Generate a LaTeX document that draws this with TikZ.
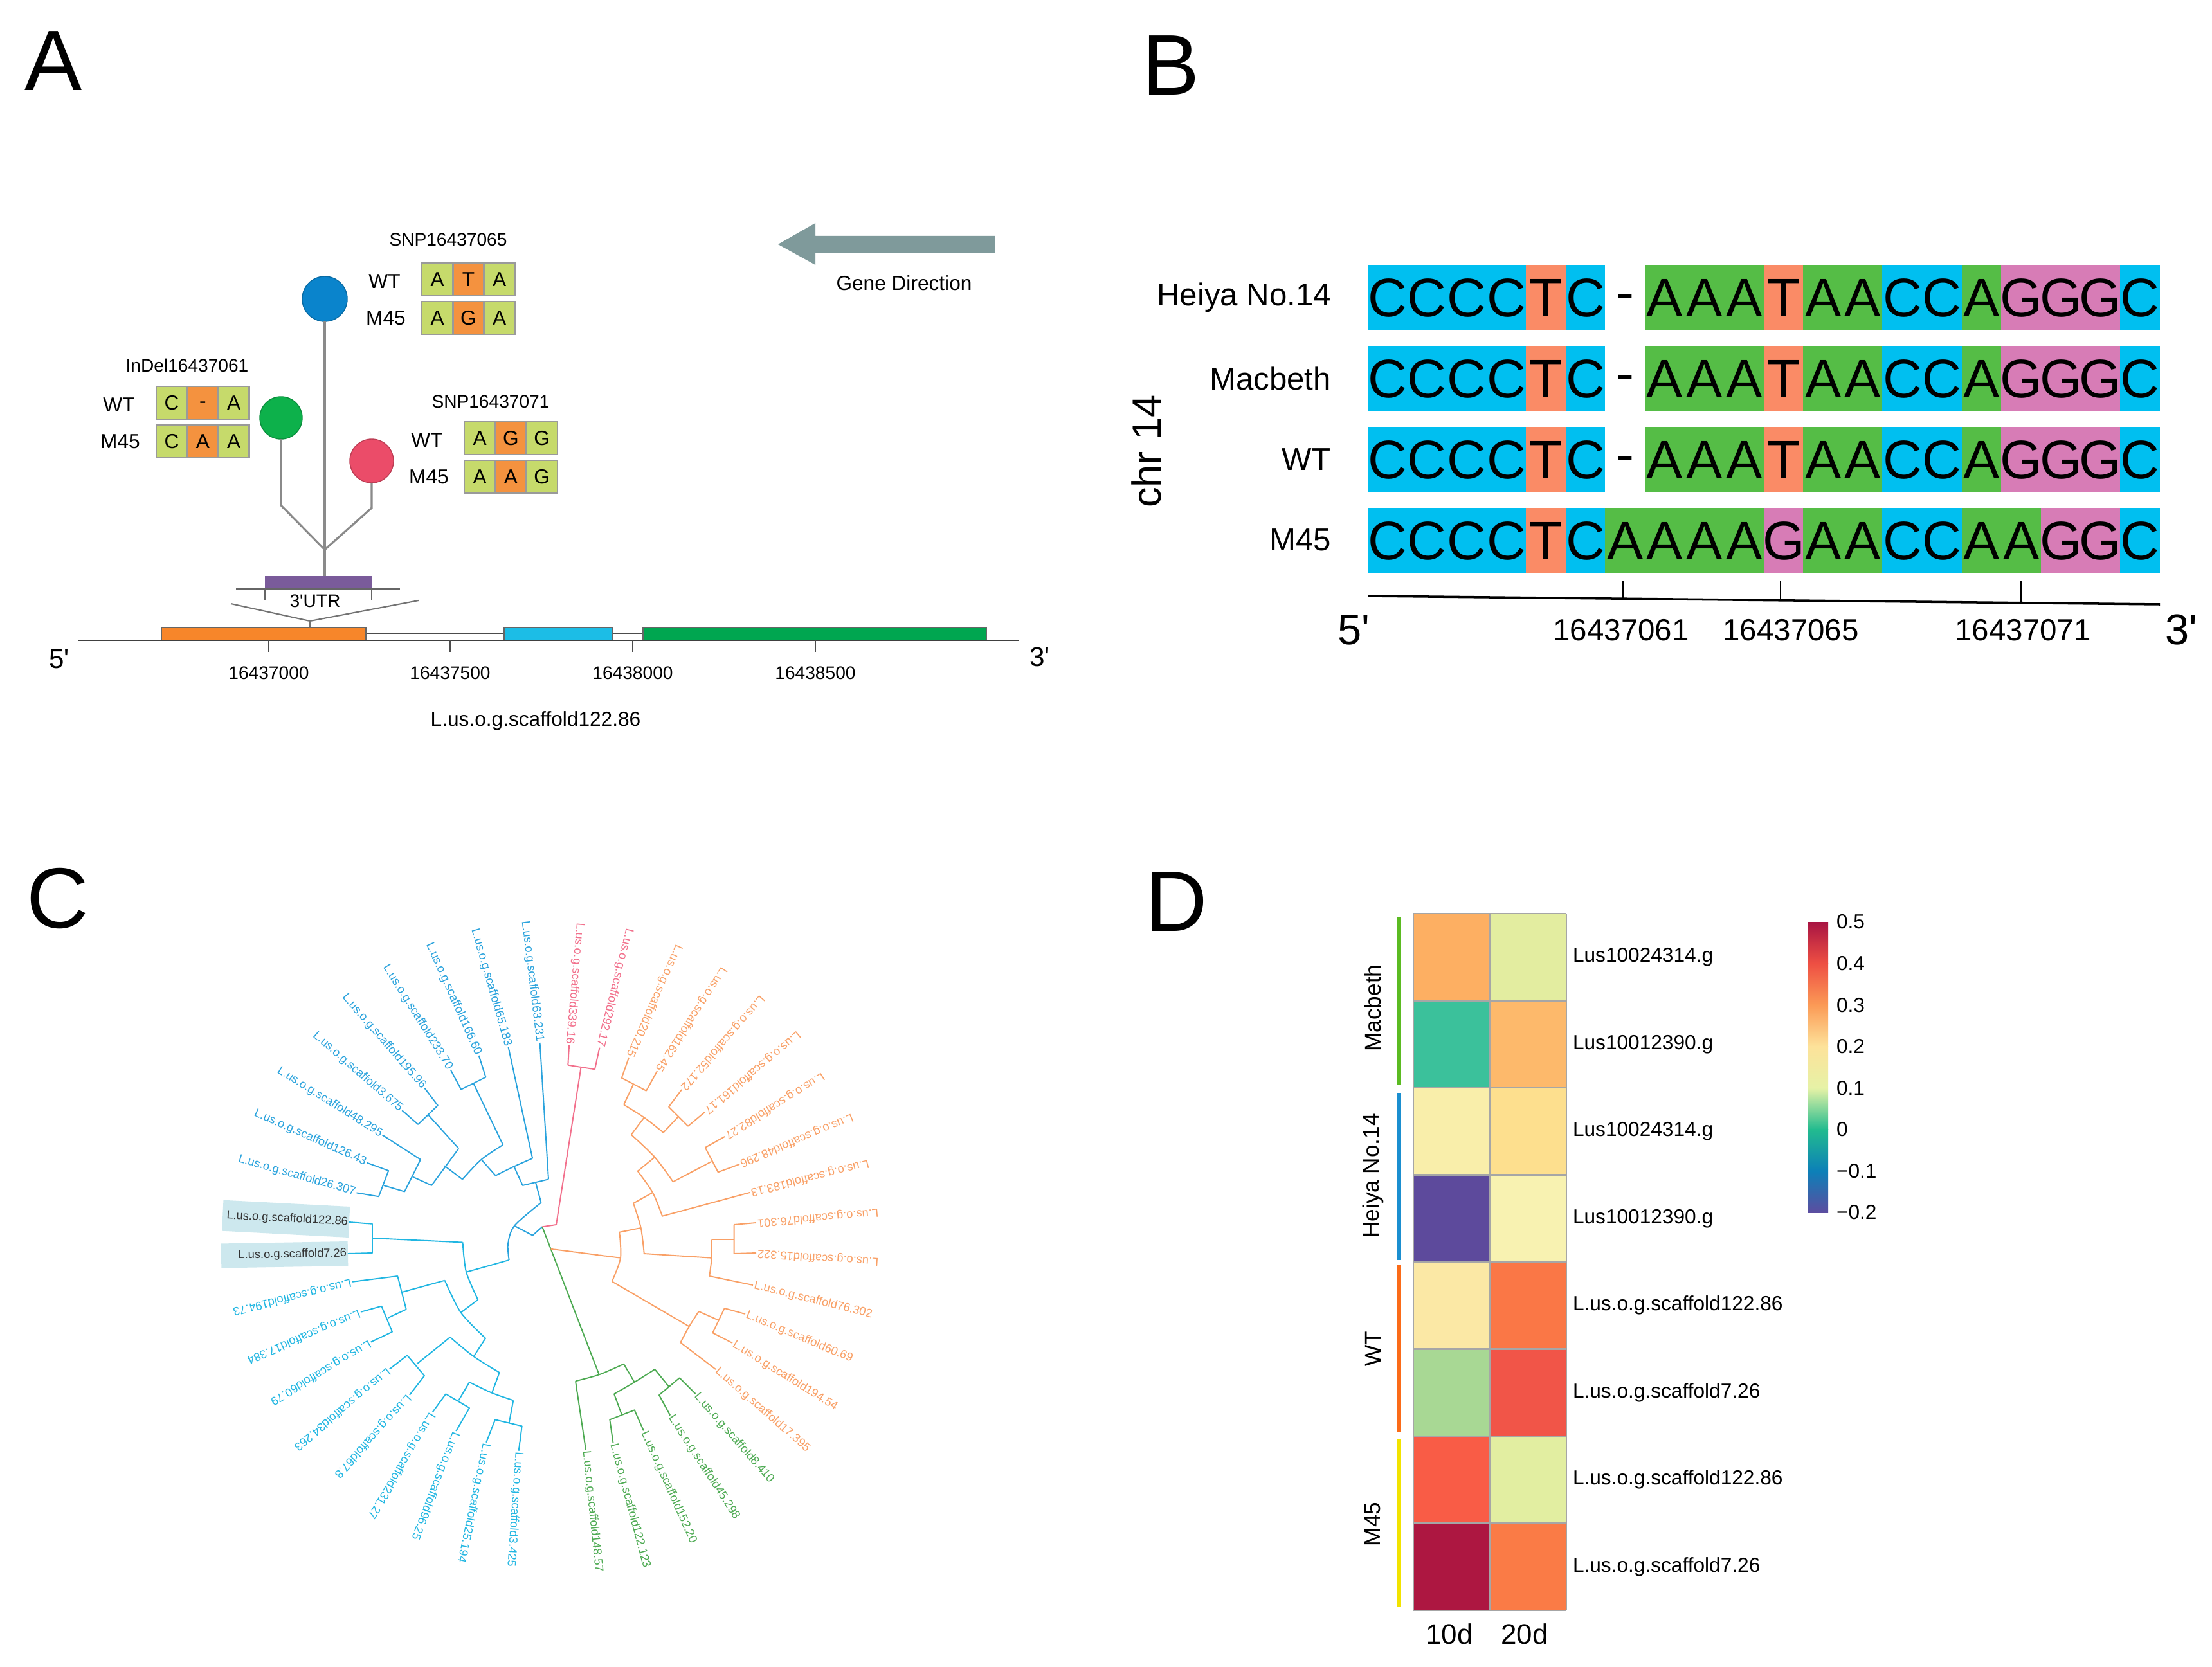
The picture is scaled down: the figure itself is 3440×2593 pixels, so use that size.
\documentclass[tikz,border=0pt]{standalone}
\usepackage{fontspec}
\setmainfont{Liberation Sans}
\newfontfamily\plainsf{Liberation Sans}
\usetikzlibrary{calc}

\definecolor{arrowgray}{HTML}{7F9A9B}
\definecolor{cyg}{HTML}{C6DA6B}
\definecolor{corg}{HTML}{F4923F}
\definecolor{cellbd}{HTML}{9A9A9A}
\definecolor{snpblue}{HTML}{0A84CC}
\definecolor{snpgreen}{HTML}{0DB14B}
\definecolor{snpred}{HTML}{EB4C69}
\definecolor{stemgray}{HTML}{8A8A8A}
\definecolor{utrpurple}{HTML}{7A5B9A}
\definecolor{exorange}{HTML}{F7862A}
\definecolor{excyan}{HTML}{1CBDE6}
\definecolor{exgreen}{HTML}{00A650}
\definecolor{bcy}{HTML}{00BFF0}
\definecolor{bor}{HTML}{FA8B66}
\definecolor{bgr}{HTML}{55BD46}
\definecolor{bpk}{HTML}{D77CB6}
\definecolor{bwh}{HTML}{FFFFFF}
\definecolor{treeblue}{HTML}{2AA3DD}
\definecolor{treecyan}{HTML}{20B6E2}
\definecolor{treepink}{HTML}{F2708C}
\definecolor{treegreen}{HTML}{4DAA52}
\definecolor{treeorange}{HTML}{F9A066}
\definecolor{hlbox}{HTML}{CDE8EE}
\definecolor{hmAa}{HTML}{FDAF62}\definecolor{hmBa}{HTML}{E3EDA0}
\definecolor{hmAb}{HTML}{3BC19B}\definecolor{hmBb}{HTML}{FDB96B}
\definecolor{hmAc}{HTML}{F9EEAA}\definecolor{hmBc}{HTML}{FDDF8E}
\definecolor{hmAd}{HTML}{5D4A9C}\definecolor{hmBd}{HTML}{F8F2B1}
\definecolor{hmAe}{HTML}{FBE8A5}\definecolor{hmBe}{HTML}{FA7746}
\definecolor{hmAf}{HTML}{A8D894}\definecolor{hmBf}{HTML}{F15548}
\definecolor{hmAg}{HTML}{F95C46}\definecolor{hmBg}{HTML}{E2EEA1}
\definecolor{hmAh}{HTML}{AD1741}\definecolor{hmBh}{HTML}{FA7B46}
\definecolor{cbA}{HTML}{A81443}
\definecolor{cbB}{HTML}{EE4F43}
\definecolor{cbC}{HTML}{FB9A56}
\definecolor{cbD}{HTML}{FDE29A}
\definecolor{cbE}{HTML}{E6F2A6}
\definecolor{cbF}{HTML}{22BB8F}
\definecolor{cbG}{HTML}{0C80B8}
\definecolor{cbH}{HTML}{5C4DA0}
\definecolor{gbgreen}{HTML}{5BBB22}
\definecolor{gbblue}{HTML}{1B8FD0}
\definecolor{gborange}{HTML}{FB6B18}
\definecolor{gbyellow}{HTML}{F2E300}

\tikzset{
  f/.style={font=\fontsize{#1}{#1}\selectfont},
  cell/.style={draw=cellbd, line width=0.8pt, minimum width=4.83mm, minimum height=5.1mm, inner sep=0pt, f=9},
  stem/.style={draw=stemgray, line width=0.9pt},
  brBlue/.style={draw=treeblue, line width=0.55pt, line join=round},
  brCyan/.style={draw=treecyan, line width=0.55pt, line join=round},
  brPink/.style={draw=treepink, line width=0.55pt, line join=round},
  brGreen/.style={draw=treegreen, line width=0.55pt, line join=round},
  brOrange/.style={draw=treeorange, line width=0.55pt, line join=round},
  lab/.style={f=5.2, inner sep=0.6pt},
}

\newcommand\trip[6]{%
  \node[cell, fill=cyg]  (#1a) at (#2+24.15,#3+25.5) {#4};
  \node[cell, fill=corg] (#1b) at (#2+72.45,#3+25.5) {#5};
  \node[cell, fill=cyg]  (#1c) at (#2+120.75,#3+25.5) {#6};}
\newcommand\lfE[4]{\node[lab,anchor=east,rotate=#2,text=#3] (lab#1) at (t#1) {L.us.o.g.scaffold#4};}
\newcommand\lfW[4]{\node[lab,anchor=west,rotate=#2,text=#3] (lab#1) at (t#1) {L.us.o.g.scaffold#4};}
\newcommand\cdash{\vphantom{C}\raisebox{0.1em}{-}}

\begin{document}
\begin{tikzpicture}[x=0.1mm, y=-0.1mm, inner sep=0pt, outer sep=0pt]
\fill[white] (0,0) rectangle (3440,2593);
\useasboundingbox (0,0) rectangle (3440,2593);

% ---------- panel letters
\node[f=38] (lA) at (83,95) {A};
\node[f=38] (lB) at (1821,102) {B};
\node[f=38] (lC) at (90,1398) {C};
\node[f=38] (lD) at (1830,1403) {D};

% ---------- Panel A
\fill[arrowgray] (1210,380) -- (1268,347) -- (1268,367) -- (1547,367) -- (1547,393) -- (1268,393) -- (1268,412) -- cycle;
\node[f=9] (gd) at (1406,440) {Gene Direction};

\node[f=8] (snp65) at (697,373) {SNP16437065};
\node[f=8] (indel) at (291,568) {InDel16437061};
\node[f=8] (snp71) at (763,625) {SNP16437071};

\node[f=9] (w65) at (598,438) {WT};
\node[f=9] (m65) at (600,495) {M45};
\node[f=9] (win) at (185,630) {WT};
\node[f=9] (min) at (187,687) {M45};
\node[f=9] (w71) at (664,685) {WT};
\node[f=9] (m71) at (667,742) {M45};

\trip{sw}{656}{409}{A}{T}{A}
\trip{sm}{656}{469}{A}{G}{A}
\trip{iw}{243}{601}{C}{\cdash}{A}
\trip{im}{243}{661}{C}{A}{A}
\trip{tw}{722}{656}{A}{G}{G}
\trip{tm}{722}{716}{A}{A}{G}

\node[fill=utrpurple, minimum width=16.6mm, minimum height=2.1mm] (utr) at (495,906.5) {};
\node[circle, fill=snpblue, draw=snpblue!80!black, line width=0.4pt, minimum size=7mm] (cb) at (505,465) {};
\node[circle, fill=snpgreen, draw=snpgreen!80!black, line width=0.4pt, minimum size=6.6mm] (cg) at (437,650) {};
\node[circle, fill=snpred, draw=snpred!80!black, line width=0.4pt, minimum size=6.8mm] (cr) at (578,717) {};
\coordinate (jn) at (505,855);
\draw[stem] (cb.south) -- (jn);
\draw[stem, line width=1.4pt] (jn) -- (cb.south |- utr.north);
\draw[stem] (cg.south) -- (437,786) -- (jn);
\draw[stem] (cr.south) -- (578,790) -- (jn);

\draw[draw=black!60, line width=0.6pt] (367,916) -- (622,916);
\draw[draw=black!60, line width=0.6pt] (412,917) -- (412,933) (578,917) -- (578,933);
\node[f=8] (utrlab) at (490,935) {\plainsf 3'UTR};
\draw[draw=black!55, line width=0.6pt] (359,939) -- (482,966) -- (651,934);
\draw[draw=black!55, line width=0.6pt] (482,966) -- (482,984);

\draw[draw=black!70, line width=0.6pt, fill=white] (569,985) rectangle (784,996);
\draw[draw=black!70, line width=0.6pt, fill=white] (952,985) rectangle (1000,996);
\draw[draw=black!60, line width=0.5pt, fill=exorange] (251,976) rectangle (569,996);
\draw[draw=black!60, line width=0.5pt, fill=excyan] (784,976) rectangle (952,996);
\draw[draw=black!60, line width=0.5pt, fill=exgreen] (1000,976) rectangle (1534,996);
\draw[draw=black!75, line width=0.7pt] (122,996) -- (1585,996);
\foreach \tx/\tl in {418/16437000, 700/16437500, 984/16438000, 1268/16438500}{
  \draw[draw=black!70, line width=0.6pt] (\tx,996) -- (\tx,1014);
  \node[f=8] (tk\tl) at (\tx,1047) {\tl};
}
\node[f=12] (a5) at (92,1025) {\plainsf 5'};
\node[f=12] (a3) at (1617,1022) {\plainsf 3'};
\node[f=9] (scaf) at (833,1121) {L.us.o.g.scaffold122.86};

% ---------- Panel B
\foreach \yt [count=\r] in {412,538,664} {
  \foreach \L/\cc [count=\i from 0] in {C/bcy,C/bcy,C/bcy,C/bcy,T/bor,C/bcy,\cdash/bwh,A/bgr,A/bgr,A/bgr,T/bor,A/bgr,A/bgr,C/bcy,C/bcy,A/bgr,G/bpk,G/bpk,G/bpk,C/bcy} {
    \fill[\cc] (2127+\i*61.6-0.4,\yt) rectangle (2127+\i*61.6+62,\yt+102);
    \node[f=24] (s\r-\i) at (2127+\i*61.6+30.8,\yt+51) {\L};
  }
}
\foreach \L/\cc [count=\i from 0] in {C/bcy,C/bcy,C/bcy,C/bcy,T/bor,C/bcy,A/bgr,A/bgr,A/bgr,A/bgr,G/bpk,A/bgr,A/bgr,C/bcy,C/bcy,A/bgr,A/bgr,G/bpk,G/bpk,C/bcy} {
  \fill[\cc] (2127+\i*61.6-0.4,790) rectangle (2127+\i*61.6+62,892);
  \node[f=24] (s4-\i) at (2127+\i*61.6+30.8,841) {\L};
}
\fill[white] (2127+20*61.6,400) rectangle (2127+20*61.6+3,900);
\node[f=14, anchor=east] (rl1) at (2070,463) {Heiya No.14};
\node[f=14, anchor=east] (rl2) at (2070,589) {Macbeth};
\node[f=14, anchor=east] (rl3) at (2070,715) {WT};
\node[f=14, anchor=east] (rl4) at (2070,840) {M45};
\node[f=18, rotate=90] (chr) at (1783,702) {chr 14};

\coordinate (axL) at (2127,927);
\coordinate (axR) at (3359,940);
\draw[line width=1pt] (axL) -- (axR);
\draw[line width=0.5pt] (2524,904) -- (2524,931.2) (2769,904) -- (2769,933.8) (3143,904) -- (3143,937.7);
\node[f=13.5] (p61) at (2521,980) {16437061};
\node[f=13.5] (p65) at (2785,980) {16437065};
\node[f=13.5] (p71) at (3146,980) {16437071};
\node[f=19] (b5) at (2105,980) {\plainsf 5'};
\node[f=19] (b3) at (3392,980) {\plainsf 3'};

% ---------- Panel C (tree)
\coordinate (t1) at (839.6,1622);   \coordinate (t2) at (790.6,1628.9);
\coordinate (t3) at (744.7,1641.9); \coordinate (t4) at (700.7,1664);
\coordinate (t5) at (660.5,1692.8); \coordinate (t6) at (625.3,1727.2);
\coordinate (t7) at (594.7,1765.5); \coordinate (t8) at (570.6,1808.7);
\coordinate (t9) at (554.5,1855.4); \coordinate (t10) at (543,1901);
\coordinate (t11) at (541,1950);    \coordinate (t12) at (547.7,1993.8);
\coordinate (t13) at (561,2040.8);  \coordinate (t14) at (576.8,2087.5);
\coordinate (t15) at (605.8,2129.6);\coordinate (t16) at (637,2169.8);
\coordinate (t17) at (672.7,2196.6);\coordinate (t18) at (709.3,2226);
\coordinate (t19) at (756.2,2243.7);\coordinate (t20) at (806.7,2256.7);
\coordinate (t21) at (911,2255);    \coordinate (t22) at (953.5,2244.4);
\coordinate (t23) at (1000.8,2225.3);\coordinate (t24) at (1042.2,2201.6);
\coordinate (t25) at (1081.5,2167.9);\coordinate (t26) at (1113,2130);
\coordinate (t27) at (1139,2089);   \coordinate (t28) at (1159,2044);
\coordinate (t29) at (1171,1999);   \coordinate (t30) at (1176,1949);
\coordinate (t31) at (1176,1902);   \coordinate (t32) at (1166,1855);
\coordinate (t33) at (1150,1811);   \coordinate (t34) at (1127,1768);
\coordinate (t35) at (1096,1730);   \coordinate (t36) at (1060,1695);
\coordinate (t37) at (1022,1666);   \coordinate (t38) at (978,1645);
\coordinate (t39) at (932.4,1629.6);\coordinate (t40) at (885.1,1625.8);

% highlight boxes
\fill[hlbox, rotate around={-3:(t10)}] ($(t10)+(-197,-24)$) rectangle ($(t10)+(0,24)$);
\fill[hlbox, rotate around={1:(t11)}] ($(t11)+(-197,-19)$) rectangle ($(t11)+(0,19)$);

% blue upper clade
\draw[brBlue] (t1) -- (853,1834.4);
\draw[brBlue] (t2) -- (828.1,1801.8);
\draw[brBlue] (t3) -- (755.4,1675.5) -- (717.1,1694.7) -- (t4);
\draw[brBlue] (736.3,1685.1) -- (782.2,1780.8);
\draw[brBlue] (t5) -- (680.8,1719.5) -- (650.2,1749) -- (t6);
\draw[brBlue] (666.6,1734.9) -- (713.3,1786.5);
\draw[brBlue] (t7) -- (654,1803.7);
\draw[brBlue] (t8) -- (604.2,1821) -- (588.9,1861.2) -- (t9);
\draw[brBlue] (596.6,1843.9) -- (629.1,1853.5) -- (654,1803.7);
\draw[brBlue] (641.7,1830.5) -- (671.2,1843.9) -- (713.3,1786.5);
\draw[brBlue] (691.1,1813.3) -- (719.1,1834.4);
\draw[brBlue] plot[smooth] coordinates {(719.1,1834.4) (748.5,1803.7) (782.2,1780.8)};
\draw[brBlue] (748.5,1803.7) -- (770.7,1828.6);
\draw[brBlue] plot[smooth] coordinates {(770.7,1828.6) (799.4,1814.5) (828.1,1801.8)};
\draw[brBlue] (799.4,1814.5) -- (812.8,1843.9) -- (853,1834.4);
\draw[brBlue] (832.7,1838.2) -- (841.5,1870.7);
\draw[brBlue] plot[smooth] coordinates {(841.5,1870.7) (800,1906.7) (790,1935) (791.7,1960)};
\draw[brBlue] (800,1906.7) -- (828.3,1921.7) -- (843.3,1908.3);

% blue lower clade
\draw[brCyan] (t10) -- (579,1903.8) -- (579,1949) -- (t11);
\draw[brCyan] (579,1926) -- (719.6,1932.5);
\draw[brCyan] plot[smooth] coordinates {(719.6,1932.5) (725,1978.3) (743.3,2021.7)};
\draw[brCyan] (726.7,1978.3) -- (791.7,1960);
\draw[brCyan] (743.3,2021.7) -- (716.7,2041.7);
\draw[brCyan] plot[smooth] coordinates {(691.7,1991.7) (716.7,2041.7) (755,2081.7)};
\draw[brCyan] (691.7,1991.7) -- (625,2010);
\draw[brCyan] (t12) -- (618.3,1985) -- (631.7,2036.7);
\draw[brCyan] (631.7,2036.7) -- (603.3,2050);
\draw[brCyan] (t13) -- (593.3,2031.7) -- (610,2071.7) -- (t14);
\draw[brCyan] (755,2081.7) -- (736.7,2110);
\draw[brCyan] plot[smooth] coordinates {(700,2080) (736.7,2110) (776.7,2135)};
\draw[brCyan] (700,2080) -- (648.3,2121.7);
\draw[brCyan] (t15) -- (633.3,2108.3) -- (660,2140) -- (t16);
\draw[brCyan] (776.7,2135) -- (765,2166.7);
\draw[brCyan] plot[smooth] coordinates {(730,2150) (765,2166.7) (798.3,2178.3)};
\draw[brCyan] (730,2150) -- (713.3,2178.3);
\draw[brCyan] (t17) -- (693.3,2168.3) -- (730,2190) -- (t18);
\draw[brCyan] (798.3,2178.3) -- (791.7,2213.3);
\draw[brCyan] (t19) -- (770,2208.3) -- (811.7,2218.3) -- (t20);

% pink
\draw[brPink] (843.3,1908.3) -- (865,1905) -- (903.3,1661.7);
\draw[brPink] (t40) -- (883.3,1656.7) -- (925,1663.3) -- (t39);

% green
\draw[brGreen] (843.3,1908.3) -- (931.7,2138.3);
\draw[brGreen] plot[smooth] coordinates {(895,2148.3) (931.7,2138.3) (970,2121.7)};
\draw[brGreen] (t21) -- (895,2148.3);
\draw[brGreen] (970,2121.7) -- (986.7,2150);
\draw[brGreen] plot[smooth] coordinates {(955,2168.3) (986.7,2150) (1018.3,2130)};
\draw[brGreen] (955,2168.3) -- (966.7,2200);
\draw[brGreen] (t22) -- (948.3,2208.3) -- (986.7,2193.3) -- (t23);
\draw[brGreen] (1018.3,2130) -- (1040,2156.7);
\draw[brGreen] (t24) -- (1025,2170) -- (1056.7,2143.3) -- (t25);

% orange
\draw[brOrange] (856.6,1942.8) -- (965,1956.7);
\draw[brOrange] plot[smooth] coordinates {(963.3,1916.7) (965,1956.7) (951.7,1993.3)};
\draw[brOrange] (963.3,1916.7) -- (996.7,1910);
\draw[brOrange] plot[smooth] coordinates {(985,1871.7) (996.7,1910) (1001.7,1950)};
\draw[brOrange] (1001.7,1950) -- (1106.7,1956.7);
\draw[brOrange] plot[smooth] coordinates {(1106.7,1928.3) (1106.7,1956.7) (1103.3,1985)};
\draw[brOrange] (1106.7,1928.3) -- (1141.7,1928.3);
\draw[brOrange] (t31) -- (1141.7,1905) -- (1141.7,1950) -- (t30);
\draw[brOrange] (t29) -- (1103.3,1985);
\draw[brOrange] (985,1871.7) -- (1015,1855);
\draw[brOrange] plot[smooth] coordinates {(991.7,1821.7) (1015,1855) (1030,1891.7)};
\draw[brOrange] (t32) -- (1030,1891.7);
\draw[brOrange] (991.7,1821.7) -- (1018.3,1800);
\draw[brOrange] plot[smooth] coordinates {(981.7,1765) (1018.3,1800) (1046.7,1838.3)};
\draw[brOrange] (1046.7,1838.3) -- (1106.7,1806.7);
\draw[brOrange] (t34) -- (1096.7,1785) -- (1116.7,1823.3) -- (t33);
\draw[brOrange] (981.7,1765) -- (1001.7,1738.3);
\draw[brOrange] plot[smooth] coordinates {(970,1718.3) (1001.7,1738.3) (1031.7,1761.7)};
\draw[brOrange] (970,1718.3) -- (985,1686.7);
\draw[brOrange] (t38) -- (966.7,1676.7) -- (1005,1696.7) -- (t37);
\draw[brOrange] (1031.7,1761.7) -- (1055,1736.7);
\draw[brOrange] (t36) -- (1040,1721.7) -- (1070,1751.7) -- (t35);
\draw[brOrange] (951.7,1993.3) -- (1071.7,2063.3);
\draw[brOrange] plot[smooth] coordinates {(1086.7,2040) (1071.7,2063.3) (1058.3,2088.3)};
\draw[brOrange] (t26) -- (1058.3,2088.3);
\draw[brOrange] (1086.7,2040) -- (1116.7,2053.3);
\draw[brOrange] (t28) -- (1126.7,2035) -- (1108.3,2073.3) -- (t27);

% leaf labels
\lfE{1}{-83}{treeblue}{63.231}
\lfE{2}{-74}{treeblue}{65.183}
\lfE{3}{-66}{treeblue}{166.60}
\lfE{4}{-58}{treeblue}{233.70}
\lfE{5}{-49}{treeblue}{195.96}
\lfE{6}{-41}{treeblue}{3.675}
\lfE{7}{-32}{treeblue}{48.295}
\lfE{8}{-24}{treeblue}{126.43}
\lfE{9}{-16}{treeblue}{26.307}
\lfE{10}{-3}{black!80}{122.86}
\lfE{11}{1}{black!80}{7.26}
\lfW{12}{194}{treecyan}{194.73}
\lfW{13}{203}{treecyan}{17.384}
\lfW{14}{211}{treecyan}{60.79}
\lfW{15}{220}{treecyan}{34.263}
\lfW{16}{228}{treecyan}{67.8}
\lfW{17}{239.5}{treecyan}{231.27}
\lfW{18}{249}{treecyan}{96.25}
\lfW{19}{258}{treecyan}{25.194}
\lfW{20}{266}{treecyan}{3.425}
\lfW{21}{-84}{treegreen}{148.57}
\lfW{22}{-75}{treegreen}{122.123}
\lfW{23}{-66}{treegreen}{152.20}
\lfW{24}{-57}{treegreen}{45.298}
\lfW{25}{-49}{treegreen}{8.410}
\lfW{26}{-41}{treeorange}{17.395}
\lfW{27}{-32}{treeorange}{194.54}
\lfW{28}{-23}{treeorange}{60.69}
\lfW{29}{-14}{treeorange}{76.302}
\lfE{30}{176}{treeorange}{15.322}
\lfE{31}{185}{treeorange}{76.301}
\lfE{32}{194}{treeorange}{183.13}
\lfE{33}{203}{treeorange}{48.296}
\lfE{34}{212}{treeorange}{82.27}
\lfE{35}{220}{treeorange}{161.17}
\lfE{36}{229}{treeorange}{52.172}
\lfE{37}{237}{treeorange}{162.45}
\lfE{38}{246}{treeorange}{20.215}
\lfE{39}{256}{treepink}{292.17}
\lfE{40}{265}{treepink}{339.16}

% ---------- Panel D (heatmap)
\foreach \ca/\cbb [count=\r from 0] in {hmAa/hmBa,hmAb/hmBb,hmAc/hmBc,hmAd/hmBd,hmAe/hmBe,hmAf/hmBf,hmAg/hmBg,hmAh/hmBh} {
  \fill[\ca] (2198,1421+\r*135.5) rectangle (2317,1421+\r*135.5+135.5);
  \fill[\cbb] (2317,1421+\r*135.5) rectangle (2436,1421+\r*135.5+135.5);
}
\foreach \r in {0,...,8} { \draw[draw=black!35, line width=0.7pt] (2198,1421+\r*135.5) -- (2436,1421+\r*135.5); }
\foreach \xx in {2198,2317,2436} { \draw[draw=black!35, line width=0.7pt] (\xx,1421) -- (\xx,2505); }
\foreach \t [count=\r from 0] in {Lus10024314.g,Lus10012390.g,Lus10024314.g,Lus10012390.g,L.us.o.g.scaffold122.86,L.us.o.g.scaffold7.26,L.us.o.g.scaffold122.86,L.us.o.g.scaffold7.26} {
  \node[f=9, anchor=west] (hr\r) at (2446,1421+\r*135.5+67.75) {\t};
}
\node[f=12.5] (c10) at (2254,2542) {10d};
\node[f=12.5] (c20) at (2371,2542) {20d};

\fill[gbgreen] (2172,1427) rectangle (2179,1687);
\fill[gbblue] (2172,1700) rectangle (2179,1960);
\fill[gborange] (2172,1968) rectangle (2179,2227);
\fill[gbyellow] (2172,2239) rectangle (2179,2499);
\node[f=10, rotate=90] (gMac) at (2135,1568) {Macbeth};
\node[f=10, rotate=90] (gHei) at (2135,1829) {Heiya No.14};
\node[f=10, rotate=90] (gWT) at (2135,2098) {WT};
\node[f=10, rotate=90] (gM45) at (2135,2371) {M45};

% colour bar
\shade[top color=cbA, bottom color=cbB] (2812,1434) rectangle (2843,1498.6);
\shade[top color=cbB, bottom color=cbC] (2812,1498.5) rectangle (2843,1563.2);
\shade[top color=cbC, bottom color=cbD] (2812,1563.1) rectangle (2843,1627.8);
\shade[top color=cbD, bottom color=cbE] (2812,1627.7) rectangle (2843,1692.4);
\shade[top color=cbE, bottom color=cbF] (2812,1692.3) rectangle (2843,1757);
\shade[top color=cbF, bottom color=cbG] (2812,1756.9) rectangle (2843,1821.5);
\shade[top color=cbG, bottom color=cbH] (2812,1821.4) rectangle (2843,1886);
\foreach \v [count=\k from 0] in {0.5,0.4,0.3,0.2,0.1,0,−0.1,−0.2} {
  \node[f=9, anchor=west] (cbl\k) at (2856,1434+\k*64.57) {\v};
}
\end{tikzpicture}
\end{document}
